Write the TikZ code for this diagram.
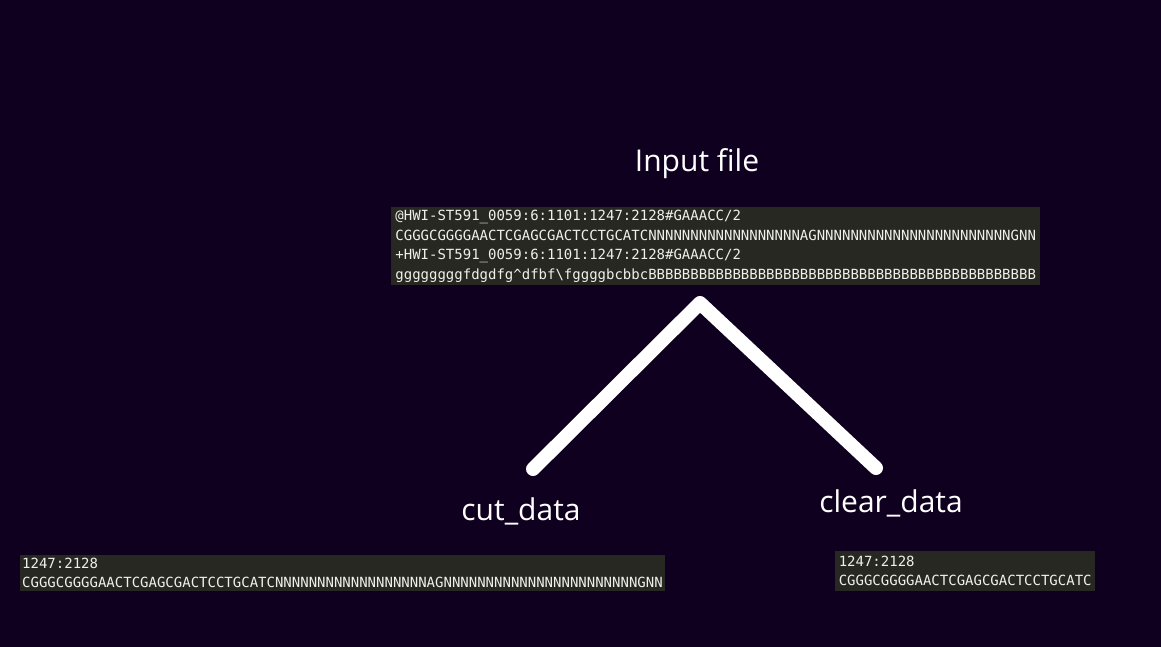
\documentclass[tikz,border=0pt]{standalone}
\usepackage{fontspec}
\setmainfont{Open Sans}
\setmonofont{DejaVu Sans Mono}
\usetikzlibrary{positioning}

\begin{document}
\begin{tikzpicture}[x=1pt, y=-1pt,
  codebox/.style={fill=codebg, text=codefg, anchor=north west, align=left, inner ysep=0pt,
    font=\ttfamily\fontsize{14}{19}\selectfont},
  label/.style={text=white, font=\fontsize{30}{34}\selectfont}]
% --- CORES: fundo escuro e caixas de codigo ---
\definecolor{backdrop}{HTML}{10001F}
\definecolor{codebg}{HTML}{272822}
\definecolor{codefg}{HTML}{F0F0EA}

% LAYER 0: fundo
\fill[backdrop] (0,0) rectangle (1161,647);
\useasboundingbox (0,0) rectangle (1161,647);

% LAYER 1: arquivo de entrada
\node[label] (inputtitle) at (697,164) {Input file};
\node[codebox, inner xsep=4pt, minimum width=649pt, minimum height=78pt, font=\ttfamily\fontsize{14}{19.5}\selectfont] (inputbox) at (391,207)
  {@HWI-ST591\_0059:6:1101:1247:2128\#GAAACC/2\\
   CGGGCGGGGAACTCGAGCGACTCCTGCATCNNNNNNNNNNNNNNNNNNAGNNNNNNNNNNNNNNNNNNNNNNNGNN\\
   +HWI-ST591\_0059:6:1101:1247:2128\#GAAACC/2\\
   ggggggggfdgdfg\textasciicircum dfbf\textbackslash fggggbcbbcBBBBBBBBBBBBBBBBBBBBBBBBBBBBBBBBBBBBBBBBBBBBBB};

% LAYER 2: ramos
\coordinate (apex) at (700,303);
\coordinate (cutend) at (533,469);
\coordinate (clearend) at (876,468);
\draw[white, line width=14pt, line cap=round, line join=round] (cutend) -- (apex) -- (clearend);

% LAYER 3: saidas
\node[label] (cutlabel) at (521,511) {cut\_data};
\node[label] (clearlabel) at (891,503) {clear\_data};
\node[codebox, inner xsep=2pt, minimum width=643pt, minimum height=36pt] (cutbox) at (20,555)
  {1247:2128\\
   CGGGCGGGGAACTCGAGCGACTCCTGCATCNNNNNNNNNNNNNNNNNNAGNNNNNNNNNNNNNNNNNNNNNNNGNN};
\node[codebox, inner xsep=3pt, minimum width=260pt, minimum height=40pt] (clearbox) at (835,551)
  {1247:2128\\
   CGGGCGGGGAACTCGAGCGACTCCTGCATC};
\end{tikzpicture}
\end{document}
